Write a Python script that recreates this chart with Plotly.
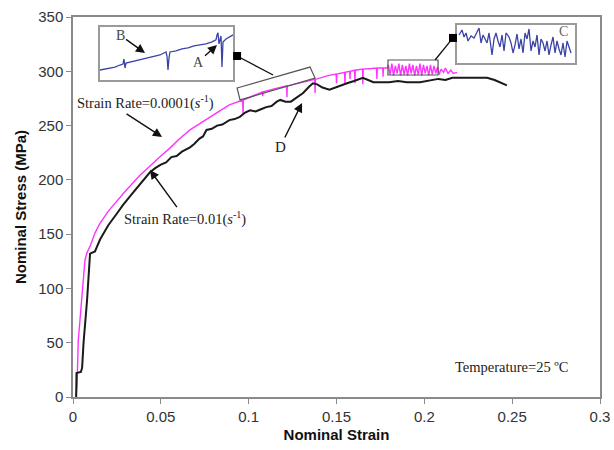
import plotly.graph_objects as go

# ---------------- data ----------------
mag_x = [0.0017, 0.0023, 0.003, 0.004, 0.005, 0.006, 0.0068, 0.008, 0.010, 0.0125, 0.015, 0.020,
         0.025, 0.030, 0.038, 0.045, 0.050, 0.055, 0.060, 0.0666, 0.075, 0.082, 0.089, 0.094,
         0.0966, 0.0968, 0.0970, 0.102, 0.1078, 0.108, 0.1082, 0.115,
         0.1216, 0.1218, 0.1220, 0.130, 0.1376, 0.1378, 0.1380, 0.145,
         0.1498, 0.150, 0.1502, 0.1546, 0.1548, 0.155, 0.1575, 0.1577, 0.1579,
         0.1603, 0.1605, 0.1607, 0.1648, 0.165, 0.1652, 0.170, 0.1728, 0.173, 0.1732,
         0.1763, 0.1765, 0.1767, 0.179,
         0.1795, 0.1805, 0.1815, 0.1825, 0.1835, 0.1845, 0.1855, 0.1865, 0.1875, 0.1885,
         0.1895, 0.1905, 0.1915, 0.1925, 0.1935, 0.1945, 0.1955, 0.1965, 0.1975, 0.1985,
         0.1995, 0.2005, 0.2015, 0.2025, 0.2035, 0.2045, 0.2055, 0.2065, 0.2075, 0.2085,
         0.2095, 0.211, 0.212, 0.2135, 0.215, 0.2165, 0.2186]
mag_y = [0, 11, 52, 72, 89, 108, 126, 133, 140, 151, 159, 171,
         181, 190, 204, 215, 222, 229, 237, 246, 255, 262, 269, 272,
         273.5, 260, 273.5, 277, 281, 277, 281, 284,
         286.5, 276, 286.5, 289.5, 292.5, 280, 292.5, 296,
         297.5, 289, 297.5, 299, 289, 299, 300, 293, 300,
         301, 289, 301, 302, 288, 302, 302.5, 303, 293, 303,
         303, 295, 303, 303,
         306, 297, 307, 296, 305, 298, 307, 296, 306, 297,
         305, 296, 307, 298, 306, 296, 305, 297, 307, 296,
         306, 298, 305, 296, 306, 297, 305, 298, 304, 297,
         302, 299, 303, 298, 301, 298, 299]

blk_x = [0.0018, 0.0020, 0.0045, 0.0052, 0.006, 0.008, 0.0097, 0.0125, 0.0154, 0.020, 0.025,
         0.0285, 0.033, 0.038, 0.0438, 0.047, 0.050, 0.053, 0.056, 0.059, 0.062, 0.0666,
         0.069, 0.072, 0.074, 0.076, 0.079, 0.082, 0.085, 0.089, 0.092, 0.095, 0.098,
         0.1008, 0.104, 0.107, 0.110, 0.113, 0.116, 0.118, 0.121, 0.124, 0.1275, 0.131,
         0.1345, 0.1366, 0.139, 0.142, 0.146, 0.149, 0.152, 0.156, 0.160, 0.165, 0.168,
         0.171, 0.175, 0.180, 0.185, 0.190, 0.1975, 0.202, 0.208, 0.212, 0.216, 0.222,
         0.229, 0.2357, 0.240, 0.244, 0.247]
blk_y = [0, 22, 23, 27, 50, 89, 132, 134, 145, 158, 169,
         177, 186, 196, 207, 211, 214, 216, 221, 222, 226, 230,
         233, 238, 240, 246, 247, 250, 251, 255, 256, 258, 262,
         264, 263, 265, 267, 268, 272, 273.6, 272, 272, 276, 280,
         286, 289, 288, 285, 283, 285, 287, 289, 291, 294, 292,
         290, 290, 290, 291, 290, 290, 291, 293, 292, 294, 294,
         294, 294, 292, 289, 287]

# inset B/A (zoomed serration), local units
insetA_x = [0, 5, 10, 15, 20, 23, 24, 25, 26, 30, 36, 42, 48, 55, 60, 64, 66, 67, 68, 69, 70,
            76, 82, 88, 94, 100, 106, 112, 116, 117, 118, 119, 120, 121, 122, 123, 126, 130, 133]
insetA_y = [10, 11, 12, 13, 15, 16, 21, 12, 17, 18, 19, 21, 22, 24, 25, 27, 28, 24, 10, 22, 28,
            29, 31, 32, 34, 35, 36, 38, 40, 45, 47, 36, 40, 44, 13, 38, 41, 43, 45]

# inset C (zoomed serration), local units
insetC_x = [2, 5, 7, 9, 11, 14, 17, 20, 22, 24, 26, 28, 30, 32, 35, 37, 39, 41, 43, 45, 47, 49,
            52, 54, 56, 58, 60, 62, 64, 66, 68, 70, 72, 74, 76, 78, 80, 82, 84, 86, 88, 90, 92,
            94, 96, 98, 100, 102, 104, 106, 108, 110, 112, 114]
insetC_y = [28, 33, 26, 30, 22, 27, 25, 32, 35, 20, 28, 24, 20, 30, 8, 24, 30, 22, 16, 28, 12, 30,
            26, 20, 10, 18, 29, 14, 24, 10, 30, 24, 34, 12, 22, 16, 28, 8, 24, 20, 12, 22, 8,
            18, 26, 10, 22, 14, 8, 20, 6, 22, 16, 10]

x_ticks = [0, 0.05, 0.1, 0.15, 0.2, 0.25, 0.3]
x_tick_text = ["0", "0.05", "0.1", "0.15", "0.2", "0.25", "0.3"]
y_ticks = [0, 50, 100, 150, 200, 250, 300, 350]

# ---------------- figure ----------------
fig = go.Figure()

fig.add_trace(go.Scatter(x=mag_x, y=mag_y, mode="lines",
                         line=dict(color="#ff33ff", width=1.4), hoverinfo="skip"))
fig.add_trace(go.Scatter(x=blk_x, y=blk_y, mode="lines",
                         line=dict(color="#1a1a1a", width=2), hoverinfo="skip"))

fig.add_trace(go.Scatter(x=insetA_x, y=insetA_y, mode="lines", xaxis="x2", yaxis="y2",
                         line=dict(color="#3b44a6", width=1.3), hoverinfo="skip"))
fig.add_trace(go.Scatter(x=insetC_x, y=insetC_y, mode="lines", xaxis="x3", yaxis="y3",
                         line=dict(color="#3b44a6", width=1.3), hoverinfo="skip"))

tick_font = dict(family="Liberation Sans Narrow, Liberation Sans, Arial", size=15, color="#333333")
title_font = dict(family="Liberation Sans, Arial", size=15, color="#111111")

inset_axis = dict(showline=True, mirror=True, linecolor="#9a9a9a", linewidth=1.5,
                  showgrid=False, zeroline=False, showticklabels=False, ticks="",
                  fixedrange=True, automargin=False)

fig.update_layout(
    width=614, height=450,
    margin=dict(l=73, r=14, t=17, b=53),
    paper_bgcolor="white", plot_bgcolor="white",
    showlegend=False,
    xaxis=dict(range=[0, 0.3], tickvals=x_ticks, ticktext=x_tick_text, automargin=False,
               showline=True, mirror=True, linecolor="#8a8a8a", linewidth=1.5,
               ticks="outside", ticklen=5, tickcolor="#8a8a8a",
               showgrid=False, zeroline=False, tickfont=tick_font,
               title=dict(text="<b>Nominal Strain</b>", font=title_font, standoff=6)),
    yaxis=dict(range=[0, 350], tickvals=y_ticks, automargin=False,
               showline=True, mirror=True, linecolor="#8a8a8a", linewidth=1.5,
               ticks="outside", ticklen=5, tickcolor="#8a8a8a",
               showgrid=False, zeroline=False, tickfont=tick_font,
               title=dict(text="<b>Nominal Stress (MPa)</b>", font=title_font, standoff=8)),
    xaxis2=dict(domain=[0.0512, 0.3036], anchor="y2", range=[0, 133], **inset_axis),
    yaxis2=dict(domain=[0.834, 0.974], anchor="x2", range=[0, 53], **inset_axis),
    xaxis3=dict(domain=[0.7287, 0.9526], anchor="y3", range=[0, 118], **inset_axis),
    yaxis3=dict(domain=[0.879, 0.979], anchor="x3", range=[0, 38], **inset_axis),
)

serif = "Liberation Serif, Times New Roman, serif"
ARROW = dict(showarrow=True, arrowhead=2, arrowsize=1.3, arrowwidth=1.4, arrowcolor="#111111")


def label(x, y, text, size=14.5, color="#222222"):
    fig.add_annotation(x=x, y=y, xref="x", yref="y", text=text, showarrow=False,
                       font=dict(family=serif, size=size, color=color))


def label_arrow(x, y, ax, ay, text, size=14.5, color="#222222"):
    fig.add_annotation(x=x, y=y, xref="x", yref="y", ax=ax, ay=ay, text=text,
                       font=dict(family=serif, size=size, color=color), **ARROW)


label(0.0413, 270.8, "Strain Rate=0.0001(<i>s</i><sup>-1</sup>)")
fig.add_annotation(x=0.0507, y=239.5, xref="x", yref="y", ax=-37, ay=-24, text="", **ARROW)
label_arrow(0.0438, 209, 35, 48, "Strain Rate=0.01(<i>s</i><sup>-1</sup>)")
label_arrow(0.1304, 270.8, -22, 44, "D", size=15)
label(0.2499, 27.6, "Temperature=25 ºC", size=14.5)

# inset labels
label_arrow(0.041, 316.8, -25, -18, "B", size=14, color="#444444")
label_arrow(0.082, 324.2, -19, 17, "A", size=14, color="#444444")
label(0.279, 336.2, "C", size=14, color="#666666")

# callout rectangles and connectors
fig.add_shape(type="path", xref="x", yref="y",
              path="M 0.0934,284.6 L 0.1349,303.9 L 0.1378,293.8 L 0.0951,273.6 Z",
              line=dict(color="#555555", width=1.2))
fig.add_shape(type="rect", xref="x", yref="y", x0=0.1793, x1=0.2078, y0=296.6, y1=310.4,
              line=dict(color="#555555", width=1.2))
fig.add_shape(type="line", xref="x", yref="y", x0=0.0934, y0=314.1, x1=0.1139, y1=296.6,
              line=dict(color="#111111", width=1.3))
fig.add_shape(type="line", xref="x", yref="y", x0=0.2163, y0=330.7, x1=0.2061, y1=310.4,
              line=dict(color="#111111", width=1.3))
for sx, sy in [(0.0934, 314.1), (0.2163, 330.7)]:
    fig.add_shape(type="rect", xref="x", yref="y", xsizemode="pixel", ysizemode="pixel",
                  xanchor=sx, yanchor=sy, x0=-4, x1=4, y0=-4, y1=4,
                  fillcolor="#000000", line=dict(color="#000000", width=0))

fig.write_html("out.html")
